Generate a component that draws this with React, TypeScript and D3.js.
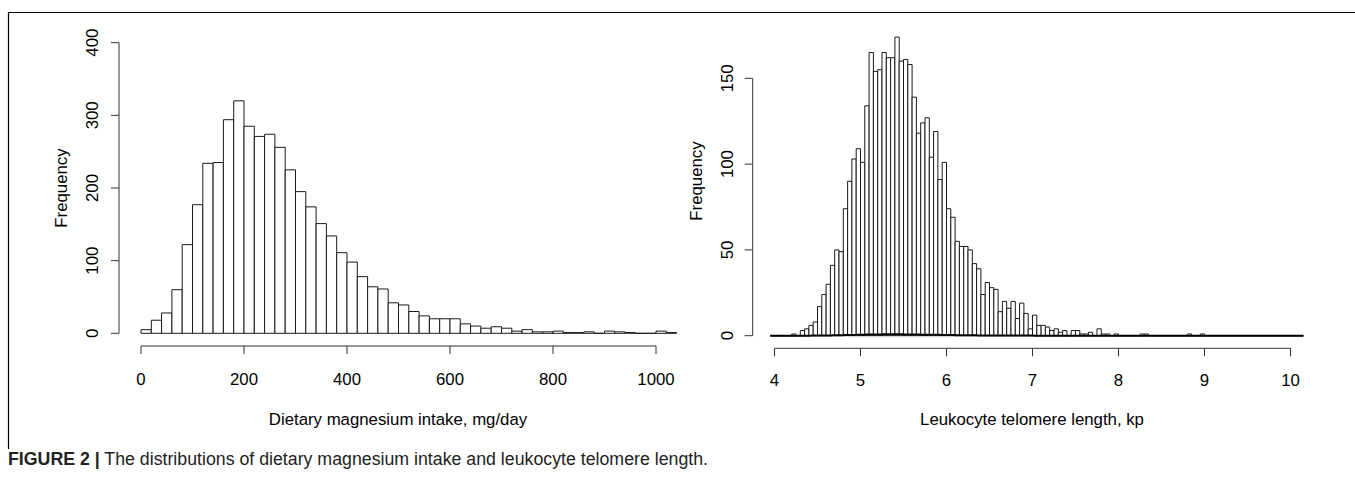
import * as d3 from 'd3';

// Dietary magnesium intake histogram, bins of 20 mg/day starting at 0
const magStart = 0;
const magBinWidth = 20;
const magCounts = [
  5, 18, 28, 60, 122, 177, 234, 235, 294, 320,
  285, 271, 274, 256, 225, 195, 174, 151, 134, 111,
  98, 78, 64, 61, 42, 39, 30, 24, 20, 20,
  20, 13, 10, 7, 9, 7, 3, 5, 2, 2,
  3, 1, 1, 2, 0, 3, 2, 1, 0, 0,
  3, 1,
];
const magTicksX = [0, 200, 400, 600, 800, 1000];
const magTicksY = [0, 100, 200, 300, 400];

// Leukocyte telomere length histogram, bins of 0.05 kp starting at 3.95
const ltlStart = 3.95;
const ltlBinWidth = 0.05;
const ltlCounts = [
  0, 0, 0, 0, 0, 1, 0, 3, 4, 6,
  8, 17, 24, 30, 41, 50, 49, 74, 90, 103,
  109, 101, 134, 165, 154, 155, 165, 162, 162, 174,
  160, 161, 158, 139, 118, 124, 127, 104, 119, 91,
  101, 74, 69, 55, 52, 52, 50, 42, 39, 24,
  31, 28, 27, 14, 20, 16, 20, 10, 19, 13,
  4, 12, 6, 6, 5, 3, 4, 2, 3, 0,
  3, 3, 1, 1, 2, 0, 4, 1, 1, 0,
  1, 0, 0, 0, 0, 0, 1, 1, 0, 0,
  0, 0, 0, 0, 0, 0, 0, 1, 0, 0,
  1, 0, 0, 0, 0, 0, 0, 0, 0, 0,
  0, 0, 0, 0, 0, 0, 0, 0, 0, 0,
  0, 0, 0, 0,
];
const ltlTicksX = [4, 5, 6, 7, 8, 9, 10];
const ltlTicksY = [0, 50, 100, 150];

const FONT = '"Liberation Sans", Arial, Helvetica, sans-serif';
const INK = '#1a1a1a';

function barPath(x0: number, x1: number, y0: number, y1: number) {
  return `M${x0},${y0}V${y1}H${x1}V${y0}Z`;
}

function Histogram({ counts, start, width, x, y, ticksX, ticksY, axisX, axisY, tickLabelX, tickLabelY, ylabX, ylabY, xlab, xlabX }) {
  const bars = counts.map((c, i) => {
    const a = x(start + i * width);
    const b = x(start + (i + 1) * width);
    return <path key={i} d={barPath(a, b, y(0), y(c))} fill="#fff" stroke={INK} strokeWidth={1} />;
  });
  const xr = [x(ticksX[0]), x(ticksX[ticksX.length - 1])];
  const yr = [y(ticksY[0]), y(ticksY[ticksY.length - 1])];
  return (
    <g fontFamily={FONT} fontSize={16.8} fill="#000">
      {bars}
      {/* x axis */}
      <line x1={xr[0]} x2={xr[1]} y1={axisY} y2={axisY} stroke="#333" strokeWidth={1} />
      {ticksX.map((t) => (
        <g key={t}>
          <line x1={x(t)} x2={x(t)} y1={axisY} y2={axisY + 8} stroke="#333" strokeWidth={1} />
          <text x={x(t)} y={tickLabelY} textAnchor="middle">{t}</text>
        </g>
      ))}
      {/* y axis */}
      <line x1={axisX} x2={axisX} y1={yr[0]} y2={yr[1]} stroke="#333" strokeWidth={1} />
      {ticksY.map((t) => (
        <g key={t}>
          <line x1={axisX - 8} x2={axisX} y1={y(t)} y2={y(t)} stroke="#333" strokeWidth={1} />
          <text transform={`translate(${tickLabelX},${y(t)}) rotate(-90)`} textAnchor="middle">{t}</text>
        </g>
      ))}
      <text transform={`translate(${ylabX},${ylabY}) rotate(-90)`} textAnchor="middle">Frequency</text>
      <text x={xlabX} y={425} textAnchor="middle">{xlab}</text>
    </g>
  );
}

export default function App() {
  const magX = d3.scaleLinear().domain([0, 1000]).range([141, 656]);
  const magY = d3.scaleLinear().domain([0, 400]).range([333.3, 42.7]);
  const ltlX = d3.scaleLinear().domain([4, 10]).range([774.5, 1290.5]);
  const ltlY = d3.scaleLinear().domain([0, 150]).range([335.7, 78.3]);

  // kernel density of the telomere data, drawn on the frequency axis as in R's lines(density(x))
  const total = d3.sum(ltlCounts);
  const bw = 0.1;
  const end = ltlStart + ltlBinWidth * ltlCounts.length;
  const grid = d3.range(ltlStart, end + 1e-9, 0.01);
  const dens = grid.map((g) => {
    let s = 0;
    ltlCounts.forEach((c, i) => {
      if (!c) return;
      const m = ltlStart + ltlBinWidth * (i + 0.5);
      const z = (g - m) / bw;
      s += c * Math.exp(-0.5 * z * z);
    });
    return [g, s / (total * bw * Math.sqrt(2 * Math.PI))] as [number, number];
  });
  const densLine = d3.line<[number, number]>().x((d) => ltlX(d[0])).y((d) => ltlY(d[1]))(dens);

  return (
    <svg width={1355} height={490} style={{ position: 'absolute', left: 0, top: 0, display: 'block', background: '#fff' }}>
      <rect width={1355} height={490} fill="#fff" />
      <line x1={8} x2={1355} y1={12.5} y2={12.5} stroke="#000" strokeWidth={1.2} />
      <line x1={8.5} x2={8.5} y1={12} y2={449} stroke="#000" strokeWidth={1.2} />

      <Histogram
        counts={magCounts} start={magStart} width={magBinWidth}
        x={magX} y={magY} ticksX={magTicksX} ticksY={magTicksY}
        axisX={119} axisY={346} tickLabelX={98} tickLabelY={385}
        ylabX={67} ylabY={188} xlab="Dietary magnesium intake, mg/day" xlabX={398}
      />
      <Histogram
        counts={ltlCounts} start={ltlStart} width={ltlBinWidth}
        x={ltlX} y={ltlY} ticksX={ltlTicksX} ticksY={ltlTicksY}
        axisX={752.7} axisY={348.3} tickLabelX={733} tickLabelY={386}
        ylabX={702} ylabY={181} xlab="Leukocyte telomere length, kp" xlabX={1032}
      />
      <path d={densLine || ''} fill="none" stroke="#000" strokeWidth={2} />

      <text x={8} y={465} fontFamily={'"Liberation Sans Narrow", "Liberation Sans", Arial, sans-serif'} fontSize={17.5} fill="#222" textLength={700} lengthAdjust="spacingAndGlyphs">
        <tspan fontWeight="bold">FIGURE 2 |</tspan>
        <tspan> The distributions of dietary magnesium intake and leukocyte telomere length.</tspan>
      </text>
    </svg>
  );
}
